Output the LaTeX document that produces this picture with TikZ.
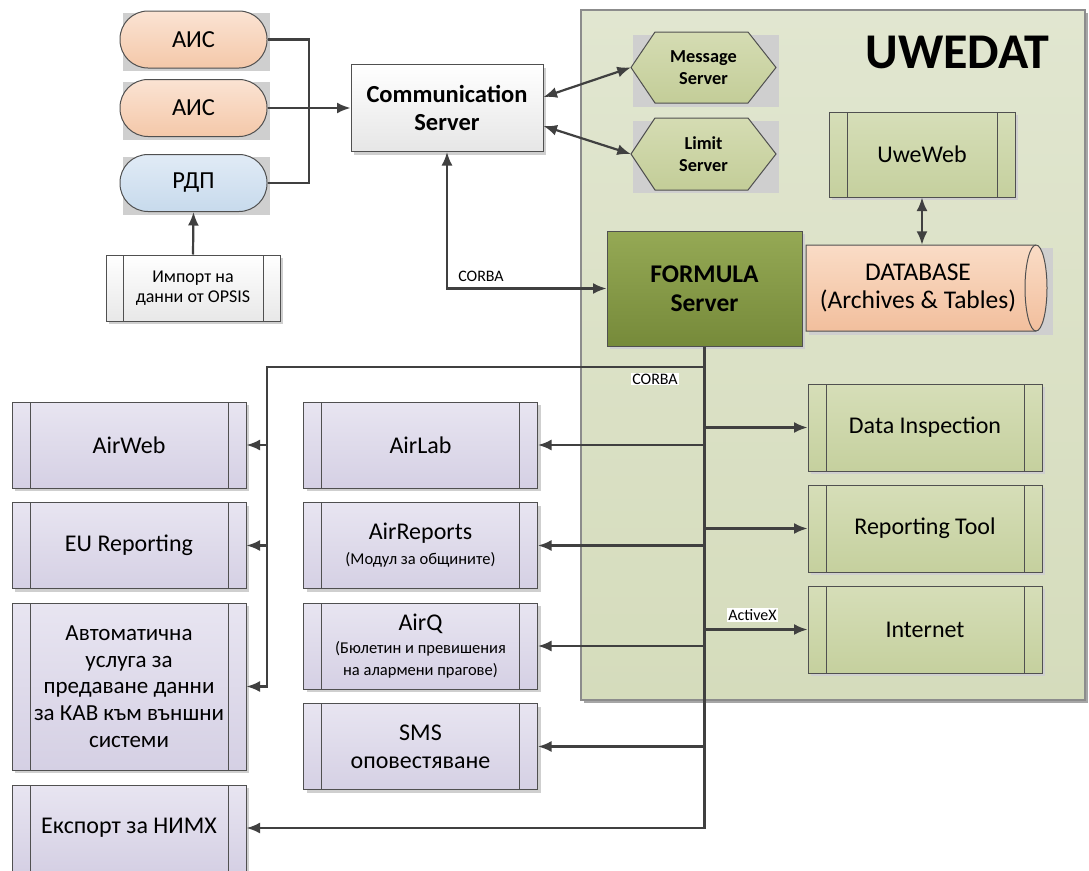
\documentclass[tikz,border=0pt]{standalone}
\usepackage{fontspec}
\setmainfont{Carlito}
\usetikzlibrary{arrows.meta,shadows}
\definecolor{linec}{HTML}{404040}
\definecolor{boxc}{HTML}{505050}
\definecolor{purpT}{HTML}{E8E5F1}
\definecolor{purpB}{HTML}{D5D0E4}
\definecolor{grnT}{HTML}{D6DEB8}
\definecolor{grnB}{HTML}{C5D09E}
\definecolor{contT}{HTML}{E1E6D0}
\definecolor{contB}{HTML}{D5DCBC}
\definecolor{contL}{HTML}{8C8C8C}
\definecolor{hexT}{HTML}{D5DCB3}
\definecolor{hexB}{HTML}{C3CD98}
\definecolor{formT}{HTML}{95A955}
\definecolor{formB}{HTML}{768A3A}
\definecolor{dbT}{HTML}{FADCC6}
\definecolor{dbB}{HTML}{F2BF9D}
\definecolor{peachT}{HTML}{FBE3D3}
\definecolor{peachB}{HTML}{F4C8A9}
\definecolor{blueT}{HTML}{E1EBF6}
\definecolor{blueB}{HTML}{C7DAEC}
\definecolor{commB}{HTML}{E6E6E6}
\definecolor{impB}{HTML}{E8E8E8}
\definecolor{shadc}{HTML}{CFCFCF}
\newcommand\myfs[2]{\fontsize{#1}{#2}\selectfont}
\tikzset{
  base/.style={draw=boxc, line width=1pt, inner sep=0pt, align=center},
  shad/.style={drop shadow={shadow xshift=3pt,shadow yshift=-3pt,fill=shadc,opacity=1}},
  bars/.style={path picture={\draw[boxc,line width=1pt]
     ([xshift=#1]path picture bounding box.north west) -- ([xshift=#1]path picture bounding box.south west)
     ([xshift=-#1]path picture bounding box.north east) -- ([xshift=-#1]path picture bounding box.south east);}},
  bars/.default=18pt,
  purp/.style={base,shad,bars,top color=purpT,bottom color=purpB,minimum width=234pt,minimum height=86pt,font=\myfs{24}{28}},
  grn/.style={base,shad,bars,top color=grnT,bottom color=grnB,minimum width=234pt,minimum height=87pt,font=\myfs{24}{28}},
  pill/.style={base,rounded corners=28pt,minimum width=147pt,minimum height=57pt,font=\myfs{24.5}{28}},
  hexbox/.style={draw=boxc,line width=1pt,top color=hexT,bottom color=hexB},
  hextext/.style={minimum width=145pt,inner sep=0pt,align=center,font=\bfseries\myfs{18.3}{22}},
  arr/.style={linec,line width=2.2pt,-{Latex[length=13.5pt,width=11pt]}},
  arr2/.style={linec,line width=2.2pt,{Latex[length=13.5pt,width=11pt]}-{Latex[length=13.5pt,width=11pt]}},
  wire/.style={linec,line width=2.2pt},
  tag/.style={fill=white,inner sep=1pt,font=\myfs{16}{18}}
}
\begin{document}
\begin{tikzpicture}[x=1pt,y=-1pt]
\useasboundingbox (0,0) rectangle (1089,870);
\fill[white] (0,0) rectangle (1089,870);

% UWEDAT container
\node[draw=contL,line width=1.5pt,top color=contT,bottom color=contB,minimum width=504pt,minimum height=690pt,inner sep=0pt,
  drop shadow={shadow xshift=2.5pt,shadow yshift=-2.5pt,fill=black!35,opacity=1}] (uwedat) at (833,355) {};
\node[font=\bfseries\myfs{50}{52}] (title) at (957.5,52) {UWEDAT};

% sources
\fill[shadc] (123,13) rectangle (269.5,71);
\fill[shadc] (123,81.5) rectangle (269.5,139.5);
\fill[shadc] (123,156.5) rectangle (269.5,214.5);
\node[pill,top color=peachT,bottom color=peachB] (ais1) at (193.5,39.5) {АИС};
\node[pill,top color=peachT,bottom color=peachB] (ais2) at (193.5,108) {АИС};
\node[pill,top color=blueT,bottom color=blueB] (rdp) at (193.5,183) {РДП};
\node[base,shad,bars=17pt,top color=white,bottom color=impB,minimum width=174pt,minimum height=66pt,font=\myfs{18}{20.5}] (imp) at (193,288) {Импорт на\\данни от OPSIS};

\node[base,shad,top color=white,bottom color=commB,minimum width=192pt,minimum height=87pt,font=\bfseries\myfs{24.5}{28}] (comm) at (447,108) {Communication\\Server};

% hexagons
\fill[shadc] (633,35) rectangle (779,107);
\draw[hexbox] (631,67.5) -- (655,32) -- (748,32) -- (776,67.5) -- (748,103) -- (655,103) -- cycle;
\node[hextext] (msg) at (703.5,67.5) {Message\\Server};
\fill[shadc] (633,121) rectangle (779,193);
\draw[hexbox] (631,154) -- (655,118) -- (748,118) -- (776,154) -- (748,190) -- (655,190) -- cycle;
\node[hextext] (lim) at (703.5,154) {Limit\\Server};

\node[grn,minimum width=186pt,minimum height=85pt] (uwe) at (922,154.5) {UweWeb};

\node[base,shad,top color=formT,bottom color=formB,minimum width=195pt,minimum height=115pt,font=\bfseries\myfs{25.5}{29}] (form) at (704.5,288.5) {FORMULA\\Server};

% database
\fill[shadc] (809,248) rectangle (1053,335);
\path[draw=boxc,line width=1pt,top color=dbT,bottom color=dbB] (806,245) -- (1036,245)
  arc[start angle=-90,end angle=90,x radius=11,y radius=43] -- (806,331) -- cycle;
\draw[boxc,line width=1pt] (1036,245) arc[start angle=-90,end angle=-270,x radius=11,y radius=43];
\node[font=\myfs{25.5}{28},align=center,minimum width=218pt,minimum height=86pt,inner sep=0pt] (db) at (918,288) {DATABASE\\(Archives \& Tables)};

% right boxes
\node[grn] (insp) at (925,427.5) {Data Inspection};
\node[grn] (rept) at (925,528.5) {Reporting Tool};
\node[grn] (inet) at (925,629.5) {Internet};

% left column
\node[purp] (airweb) at (129,445) {AirWeb};
\node[purp] (eurep) at (129,545.5) {EU Reporting};
\node[purp,minimum height=167pt,font=\myfs{23}{26.7}] (auto) at (129,686.5) {Автоматична\\услуга за\\предаване данни\\за КАВ към външни\\системи};
\node[purp] (export) at (129,828) {Експорт за НИМХ};

% middle column
\node[purp] (airlab) at (420.5,445) {AirLab};
\node[purp] (airrep) at (420.5,545.5) {AirReports\\[-3pt]{\myfs{16.5}{19}(Модул за общините)}};
\node[purp] (airq) at (420.5,646) {AirQ\\[-5pt]{\myfs{16.5}{19}(Бюлетин и превишения}\\[-6pt]{\myfs{16.5}{19}на алармени прагове)}};
\node[purp] (sms) at (420.5,746.5) {SMS\\оповестяване};

% connectors
\coordinate (bus) at (309,108);
\coordinate (lb) at (267,367);
\draw[wire] (ais1.east) -| (bus);
\draw[wire] (rdp.east) -| (bus);
\draw[arr] (ais2.east) -- (comm.west);
\draw[arr] (imp.north) -- (rdp.south);
\draw[arr2] ([yshift=11pt]comm.east) -- (msg.west);
\draw[arr2] ([yshift=-18pt]comm.east) -- (lim.west);
\draw[arr2] (comm.south) |- (form.west);
\node[font=\myfs{16}{18}] (corba1) at (481,276) {CORBA};
\draw[arr2] (uwe.south) -- (uwe.south |- db.north);

\draw[arr] (form.south) |- (lb) |- (auto.east);
\draw[arr] (lb |- airweb.east) -- (airweb.east);
\draw[arr] (lb |- eurep.east) -- (eurep.east);
\draw[arr] (form.south) |- (export.east);
\draw[arr] (form.south |- airlab.east) -- (airlab.east);
\draw[arr] (form.south |- airrep.east) -- (airrep.east);
\draw[arr] (form.south |- airq.east) -- (airq.east);
\draw[arr] (form.south |- sms.east) -- (sms.east);
\draw[arr] (form.south |- insp.west) -- (insp.west);
\draw[arr] (form.south |- rept.west) -- (rept.west);
\draw[arr] (form.south |- inet.west) -- (inet.west);
\node[tag] (corba2) at (655,379) {CORBA};
\node[tag] (actx) at (752.5,615) {ActiveX};
\end{tikzpicture}
\end{document}
